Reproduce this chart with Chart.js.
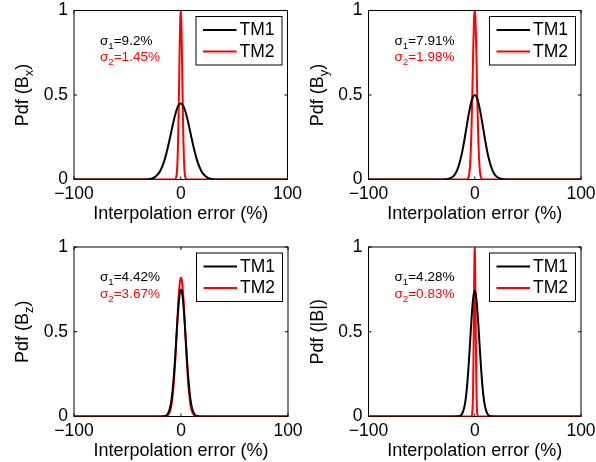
<!DOCTYPE html>
<html>
<head>
<meta charset="utf-8">
<script src="https://cdn.jsdelivr.net/npm/chart.js@4.4.1/dist/chart.umd.min.js"></script>
<style>
  body { margin: 0; background: #fff; }
  #wrap { position: relative; width: 596px; height: 462px; overflow: hidden; }
  #wrap canvas { position: absolute; left: 0; top: 0; }
</style>
</head>
<body>
<div id="wrap">
  <canvas id="c1" width="596" height="462"></canvas>
  <canvas id="c2" width="596" height="462"></canvas>
  <canvas id="c3" width="596" height="462"></canvas>
  <canvas id="c4" width="596" height="462"></canvas>
</div>
<script>
// axes
const xTickValues = [-100, 0, 100];
const xTickLabels = ['\u2212100', '0', '100'];
const yTickValues = [0, 0.5, 1];
const yTickLabels = ['0', '0.5', '1'];
const seriesNames = ['TM1', 'TM2'];
const xAxisTitle = 'Interpolation error (%)';

// panel texts
const yTitleMain = ['Pdf (B', 'Pdf (B', 'Pdf (B', 'Pdf (|B|)'];
const yTitleSub = ['x', 'y', 'z', ''];
const yTitleEnd = [')', ')', ')', ''];
const sigma1 = ['9.2%', '7.91%', '4.42%', '4.28%'];
const sigma2 = ['1.45%', '1.98%', '3.67%', '0.83%'];

// Bx panel
const bxTM1X = [-100, -35, -30, -25, -20, -17.5, -15, -12.5, -10, -7.5, -5, -2.5, 0, 2.5, 5, 7.5, 10, 12.5, 15, 17.5, 20, 25, 30, 35, 100];
const bxTM1Y = [0, 0, 0.002, 0.011, 0.042, 0.074, 0.119, 0.179, 0.249, 0.323, 0.388, 0.434, 0.45, 0.434, 0.388, 0.323, 0.249, 0.179, 0.119, 0.074, 0.042, 0.011, 0.002, 0, 0];
const bxTM2X = [-100, -6, -5, -4, -3.5, -3, -2.5, -2, -1.5, -1, -0.5, 0, 0.5, 1, 1.5, 2, 2.5, 3, 3.5, 4, 5, 6, 100];
const bxTM2Y = [0, 0, 0.003, 0.022, 0.054, 0.118, 0.226, 0.386, 0.586, 0.788, 0.942, 1.0, 0.942, 0.788, 0.586, 0.386, 0.226, 0.118, 0.054, 0.022, 0.003, 0, 0];

// By panel
const byTM1X = [-100, -30, -25, -20, -17.5, -15, -12.5, -10, -7.5, -5, -2.5, 0, 2.5, 5, 7.5, 10, 12.5, 15, 17.5, 20, 25, 30, 100];
const byTM1Y = [0, 0, 0.003, 0.02, 0.043, 0.083, 0.143, 0.225, 0.319, 0.409, 0.476, 0.5, 0.476, 0.409, 0.319, 0.225, 0.143, 0.083, 0.043, 0.02, 0.003, 0, 0];
const byTM2X = [-100, -8, -7, -6, -5, -4, -3.5, -3, -2.5, -2, -1.5, -1, -0.5, 0, 0.5, 1, 1.5, 2, 2.5, 3, 3.5, 4, 5, 6, 7, 8, 100];
const byTM2Y = [0, 0, 0.002, 0.01, 0.041, 0.13, 0.21, 0.317, 0.451, 0.6, 0.75, 0.88, 0.969, 1.0, 0.969, 0.88, 0.75, 0.6, 0.451, 0.317, 0.21, 0.13, 0.041, 0.01, 0.002, 0, 0];

// Bz panel
const bzTM1X = [-100, -20, -16, -14, -12, -10, -9, -8, -7, -6, -5, -4, -3, -2, -1, 0, 1, 2, 3, 4, 5, 6, 7, 8, 9, 10, 12, 14, 16, 20, 100];
const bzTM1Y = [0, 0, 0.001, 0.005, 0.019, 0.058, 0.094, 0.146, 0.214, 0.298, 0.395, 0.498, 0.596, 0.677, 0.731, 0.75, 0.731, 0.677, 0.596, 0.498, 0.395, 0.298, 0.214, 0.146, 0.094, 0.058, 0.019, 0.005, 0.001, 0, 0];
const bzTM2X = [-100, -16, -14, -12, -10, -9, -8, -7, -6, -5, -4, -3, -2, -1, 0, 1, 2, 3, 4, 5, 6, 7, 8, 9, 10, 12, 14, 16, 100];
const bzTM2Y = [0, 0, 0.002, 0.009, 0.036, 0.065, 0.111, 0.177, 0.266, 0.375, 0.497, 0.619, 0.724, 0.795, 0.82, 0.795, 0.724, 0.619, 0.497, 0.375, 0.266, 0.177, 0.111, 0.065, 0.036, 0.009, 0.002, 0, 0];

// |B| panel
const bmTM1X = [-100, -20, -16, -14, -12, -10, -9, -8, -7, -6, -5, -4, -3, -2, -1, 0, 1, 2, 3, 4, 5, 6, 7, 8, 9, 10, 12, 14, 16, 20, 100];
const bmTM1Y = [0, 0, 0.001, 0.004, 0.015, 0.05, 0.083, 0.131, 0.197, 0.28, 0.376, 0.48, 0.58, 0.664, 0.72, 0.74, 0.72, 0.664, 0.58, 0.48, 0.376, 0.28, 0.197, 0.131, 0.083, 0.05, 0.015, 0.004, 0.001, 0, 0];
const bmTM2X = [-100, -4, -3, -2.5, -2, -1.75, -1.5, -1.25, -1, -0.75, -0.5, -0.25, 0, 0.25, 0.5, 0.75, 1, 1.25, 1.5, 1.75, 2, 2.5, 3, 4, 100];
const bmTM2Y = [0, 0, 0.002, 0.011, 0.055, 0.108, 0.195, 0.322, 0.484, 0.665, 0.834, 0.956, 1.0, 0.956, 0.834, 0.665, 0.484, 0.322, 0.195, 0.108, 0.055, 0.011, 0.002, 0, 0];

const W = 596, H = 462;
const YW = 40, XH = 30;
const FONT = "'Liberation Sans', Arial, Helvetica, sans-serif";
const RED = '#ff0000';

// plot areas in page pixels
const panels = [
  { id: 'c1', L: 74, R: 287.5, T: 10.5, B: 179.5, x1: bxTM1X, y1: bxTM1Y, x2: bxTM2X, y2: bxTM2Y },
  { id: 'c2', L: 368.5, R: 581, T: 10.5, B: 179.5, x1: byTM1X, y1: byTM1Y, x2: byTM2X, y2: byTM2Y },
  { id: 'c3', L: 74, R: 288, T: 247, B: 416.5, x1: bzTM1X, y1: bzTM1Y, x2: bzTM2X, y2: bzTM2Y },
  { id: 'c4', L: 368.5, R: 581, T: 247, B: 416.5, x1: bmTM1X, y1: bmTM1Y, x2: bmTM2X, y2: bmTM2Y }
];

function pts(xs, ys) {
  return xs.map((x, i) => ({ x: x, y: ys[i] }));
}

// draws runs of text, some as subscripts
function drawRuns(ctx, runs, x, y, size, align) {
  let total = 0;
  runs.forEach(r => {
    ctx.font = (r.sub ? size * 0.72 : size) + 'px ' + FONT;
    r.w = ctx.measureText(r.t).width;
    total += r.w;
  });
  let cx = align === 'center' ? x - total / 2 : x;
  runs.forEach(r => {
    ctx.font = (r.sub ? size * 0.72 : size) + 'px ' + FONT;
    ctx.fillText(r.t, cx, r.sub ? y + size * 0.3 : y);
    cx += r.w;
  });
}

const panelPlugin = {
  id: 'panelDeco',
  beforeDatasetsDraw(chart) {
    const ctx = chart.ctx;
    const a = chart.chartArea;
    const xs = chart.scales.x, ys = chart.scales.y;
    ctx.save();
    ctx.strokeStyle = '#000';
    ctx.lineWidth = 1;
    ctx.strokeRect(a.left, a.top, a.right - a.left, a.bottom - a.top);
    ctx.beginPath();
    xTickValues.forEach(v => {
      const px = xs.getPixelForValue(v);
      ctx.moveTo(px, a.bottom); ctx.lineTo(px, a.bottom - 3);
      ctx.moveTo(px, a.top); ctx.lineTo(px, a.top + 3);
    });
    yTickValues.forEach(v => {
      const py = ys.getPixelForValue(v);
      ctx.moveTo(a.left, py); ctx.lineTo(a.left + 3, py);
      ctx.moveTo(a.right, py); ctx.lineTo(a.right - 3, py);
    });
    ctx.stroke();
    ctx.restore();
  },
  afterDatasetsDraw(chart) {
    const ctx = chart.ctx;
    const a = chart.chartArea;
    const k = chart.options.plugins.panelDeco.index;
    ctx.save();
    ctx.textBaseline = 'alphabetic';
    ctx.textAlign = 'left';

    // x title
    ctx.fillStyle = '#000';
    drawRuns(ctx, [{ t: xAxisTitle }], (a.left + a.right) / 2, a.bottom + 39.5, 18, 'center');

    // y title, rotated
    ctx.save();
    ctx.translate(a.left - 46, (a.top + a.bottom) / 2);
    ctx.rotate(-Math.PI / 2);
    const runs = [{ t: yTitleMain[k] }];
    if (yTitleSub[k]) runs.push({ t: yTitleSub[k], sub: true });
    if (yTitleEnd[k]) runs.push({ t: yTitleEnd[k] });
    drawRuns(ctx, runs, 0, 0, 18, 'center');
    ctx.restore();

    // sigma notes
    ctx.fillStyle = '#000';
    drawRuns(ctx, [{ t: '\u03c3' }, { t: '1', sub: true }, { t: '=' + sigma1[k] }], a.left + 26, a.top + 34, 13.5, 'left');
    ctx.fillStyle = RED;
    drawRuns(ctx, [{ t: '\u03c3' }, { t: '2', sub: true }, { t: '=' + sigma2[k] }], a.left + 26, a.top + 50.5, 13.5, 'left');

    // legend box
    const bw = 86, bh = 48.5;
    const bx = a.right - 5.5 - bw, by = a.top + 6;
    ctx.fillStyle = '#fff';
    ctx.fillRect(bx, by, bw, bh);
    ctx.strokeStyle = '#000';
    ctx.lineWidth = 1;
    ctx.strokeRect(bx, by, bw, bh);
    chart.data.datasets.forEach((ds, i) => {
      const cy = by + 13.5 + i * 21.5;
      ctx.strokeStyle = ds.borderColor;
      ctx.lineWidth = 2;
      ctx.beginPath();
      ctx.moveTo(bx + 7, cy);
      ctx.lineTo(bx + 40.5, cy);
      ctx.stroke();
      ctx.fillStyle = '#000';
      ctx.font = '17.5px ' + FONT;
      ctx.textBaseline = 'middle';
      ctx.fillText(ds.label, bx + 43.5, cy + 0.5);
      ctx.textBaseline = 'alphabetic';
    });
    ctx.restore();
  }
};

function makeChart(p, k) {
  new Chart(document.getElementById(p.id), {
    type: 'line',
    data: {
      datasets: [
        { label: seriesNames[0], data: pts(p.x1, p.y1), borderColor: '#000', borderWidth: 2, pointRadius: 0, cubicInterpolationMode: 'monotone', fill: false },
        { label: seriesNames[1], data: pts(p.x2, p.y2), borderColor: RED, borderWidth: 2, pointRadius: 0, cubicInterpolationMode: 'monotone', fill: false }
      ]
    },
    options: {
      responsive: false,
      animation: false,
      events: [],
      layout: { padding: { left: p.L - YW, right: W - p.R, top: p.T, bottom: H - p.B - XH } },
      plugins: {
        legend: { display: false },
        tooltip: { enabled: false },
        panelDeco: { index: k }
      },
      scales: {
        x: {
          type: 'linear', min: -100, max: 100,
          grid: { display: false, drawTicks: false },
          border: { display: false },
          afterBuildTicks: s => { s.ticks = xTickValues.map(v => ({ value: v })); },
          afterFit: s => { s.height = XH; s.paddingLeft = 0; s.paddingRight = 0; },
          ticks: {
            color: '#000', padding: 4, autoSkip: false, maxRotation: 0,
            font: { family: FONT, size: 17.5 },
            callback: (v, i) => xTickLabels[i]
          }
        },
        y: {
          type: 'linear', min: 0, max: 1,
          grid: { display: false, drawTicks: false },
          border: { display: false },
          afterBuildTicks: s => { s.ticks = yTickValues.map(v => ({ value: v })); },
          afterFit: s => { s.width = YW; s.paddingTop = 0; s.paddingBottom = 0; },
          ticks: {
            color: '#000', padding: 6,
            font: { family: FONT, size: 17.5 },
            callback: (v, i) => yTickLabels[i]
          }
        }
      }
    },
    plugins: [panelPlugin]
  });
}

panels.forEach((p, k) => makeChart(p, k));
</script>
</body>
</html>
